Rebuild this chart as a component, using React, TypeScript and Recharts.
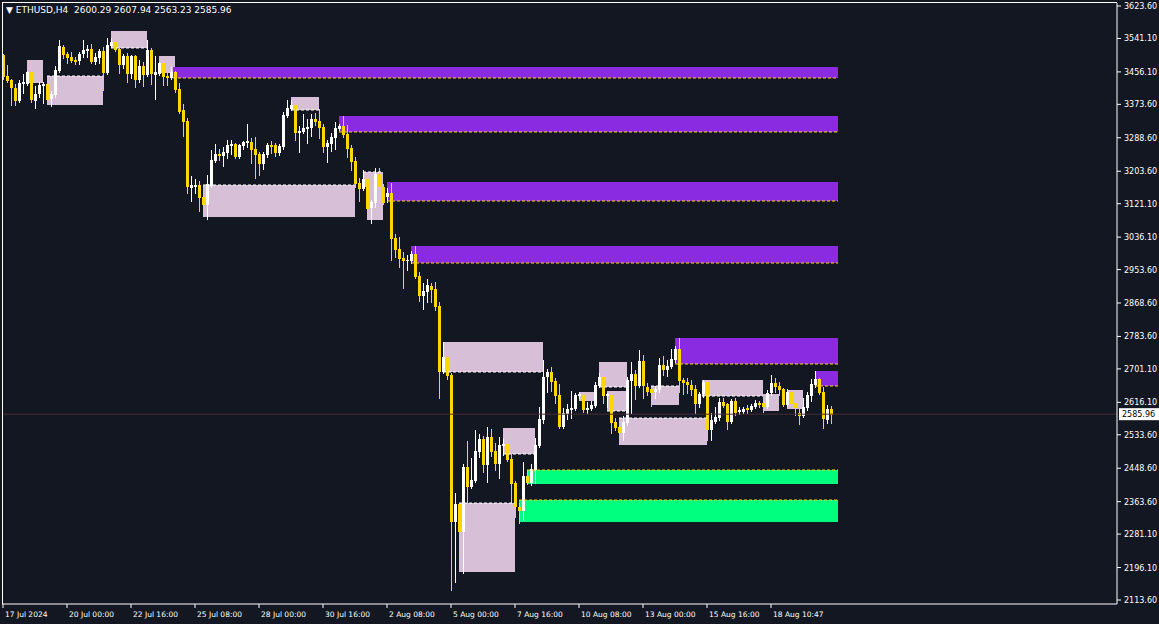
import React from "react";
import {
  ComposedChart,
  Bar,
  XAxis,
  YAxis,
  ReferenceArea,
  ReferenceLine,
} from "recharts";

// ETHUSD H4 candles, 17 Jul 2024 08:00 .. 20 Aug 2024 20:00 (bar index = position)
const opens = [
  3499.0, 3445.6, 3435.5, 3415.1, 3382.1, 3425.3, 3425.3, 3455.8, 3382.1, 3399.9,
  3420.2, 3425.3, 3387.2, 3397.3, 3458.3, 3519.4, 3501.6, 3493.9, 3486.3, 3483.8,
  3501.6, 3509.2, 3514.3, 3481.2, 3491.4, 3509.2, 3453.3, 3521.9, 3532.1, 3514.3,
  3473.6, 3496.5, 3450.7, 3496.5, 3435.5, 3471.1, 3448.2, 3511.8, 3448.2, 3450.7,
  3478.7, 3445.6, 3440.6, 3455.8, 3412.6, 3359.2, 3331.3, 3160.9, 3163.5, 3168.6,
  3138.0, 3117.7, 3166.0, 3229.6, 3247.4, 3242.3, 3249.9, 3267.7, 3272.8, 3239.7,
  3267.7, 3275.3, 3277.9, 3260.1, 3247.4, 3221.9, 3244.8, 3270.2, 3270.2, 3249.9,
  3265.2, 3344.0, 3361.8, 3371.9, 3300.7, 3303.3, 3310.9, 3313.5, 3336.3, 3331.3,
  3316.0, 3265.2, 3272.8, 3288.0, 3310.9, 3318.5, 3298.2, 3262.6, 3229.6, 3173.6,
  3158.4, 3183.8, 3110.1, 3122.8, 3196.5, 3163.5, 3138.0, 3148.2, 3033.8, 3005.8,
  2982.9, 2975.3, 2975.3, 2993.1, 2937.2, 2886.4, 2896.5, 2911.8, 2904.2, 2861.0,
  2693.2, 2731.3, 2685.5, 2311.8, 2357.6, 2286.4, 2451.6, 2400.8, 2416.1, 2489.8,
  2522.8, 2456.7, 2527.9, 2492.3, 2459.3, 2505.1, 2510.1, 2472.0, 2411.0, 2349.9,
  2339.8, 2428.8, 2411.0, 2444.0, 2505.1, 2571.1, 2680.4, 2693.2, 2670.3, 2634.7,
  2553.3, 2586.4, 2596.6, 2599.1, 2632.1, 2634.7, 2596.6, 2599.1, 2606.7, 2657.6,
  2680.4, 2632.1, 2634.7, 2566.1, 2553.3, 2538.1, 2563.5, 2670.3, 2688.1, 2657.6,
  2721.1, 2655.0, 2649.9, 2642.3, 2647.4, 2711.0, 2698.2, 2705.9, 2723.7, 2751.6,
  2672.8, 2667.7, 2660.1, 2649.9, 2611.8, 2637.2, 2667.7, 2545.7, 2566.1, 2576.2,
  2616.9, 2611.8, 2566.1, 2619.4, 2591.5, 2591.5, 2601.6, 2596.6, 2604.2, 2614.4,
  2614.4, 2604.2, 2639.8, 2665.2, 2657.6, 2649.9, 2609.3, 2642.3, 2614.4, 2588.9,
  2581.3, 2601.6, 2632.1, 2660.1, 2675.4, 2642.3, 2571.1, 2600.29,
];

const highs = [
  3501.6, 3473.6, 3438.0, 3425.3, 3435.5, 3450.7, 3458.3, 3486.3, 3420.2, 3430.4,
  3430.4, 3443.1, 3407.5, 3471.1, 3537.2, 3524.5, 3506.7, 3506.7, 3493.9, 3506.7,
  3537.2, 3524.5, 3527.0, 3504.1, 3514.3, 3519.4, 3542.3, 3542.3, 3560.0, 3519.4,
  3501.6, 3504.1, 3499.0, 3499.0, 3486.3, 3481.2, 3537.2, 3516.8, 3496.5, 3481.2,
  3486.3, 3453.3, 3468.5, 3458.3, 3427.8, 3374.5, 3338.9, 3191.4, 3183.8, 3178.7,
  3148.2, 3194.0, 3257.5, 3272.8, 3260.1, 3265.2, 3283.0, 3283.0, 3275.3, 3272.8,
  3280.4, 3323.6, 3288.0, 3290.6, 3252.4, 3252.4, 3275.3, 3280.4, 3275.3, 3272.8,
  3354.1, 3384.6, 3384.6, 3384.6, 3318.5, 3349.0, 3336.3, 3349.0, 3351.6, 3361.8,
  3323.6, 3283.0, 3300.7, 3328.7, 3323.6, 3344.0, 3321.1, 3270.2, 3239.7, 3186.3,
  3206.7, 3199.1, 3130.4, 3211.8, 3211.8, 3171.1, 3160.9, 3173.6, 3044.0, 3036.4,
  2998.2, 2990.6, 3000.8, 3013.5, 2947.4, 2919.4, 2929.6, 2919.4, 2922.0, 2871.1,
  2769.4, 2733.8, 2690.6, 2385.6, 2360.1, 2459.3, 2517.8, 2474.5, 2545.7, 2535.5,
  2530.5, 2553.3, 2548.2, 2512.7, 2527.9, 2525.4, 2550.8, 2487.3, 2416.1, 2360.1,
  2464.4, 2444.0, 2459.3, 2525.4, 2604.2, 2723.7, 2700.8, 2705.9, 2677.9, 2662.6,
  2601.6, 2611.8, 2644.9, 2639.8, 2642.3, 2637.2, 2616.9, 2619.4, 2667.7, 2690.6,
  2685.5, 2639.8, 2637.2, 2576.2, 2558.4, 2581.3, 2680.4, 2718.6, 2698.2, 2749.1,
  2736.4, 2665.2, 2652.5, 2657.6, 2728.8, 2733.8, 2723.7, 2751.6, 2759.3, 2779.6,
  2677.9, 2677.9, 2672.8, 2660.1, 2642.3, 2672.8, 2672.8, 2588.9, 2604.2, 2627.1,
  2627.1, 2614.4, 2624.5, 2627.1, 2604.2, 2604.2, 2609.3, 2611.8, 2622.0, 2619.4,
  2616.9, 2647.4, 2685.5, 2677.9, 2667.7, 2652.5, 2649.9, 2647.4, 2616.9, 2601.6,
  2627.1, 2642.3, 2675.4, 2695.7, 2677.9, 2655.0, 2609.3, 2607.94,
];

const lows = [
  3438.0, 3430.4, 3371.9, 3371.9, 3379.6, 3402.4, 3422.8, 3379.6, 3364.3, 3392.3,
  3377.0, 3379.6, 3369.4, 3392.3, 3456.0, 3491.4, 3478.7, 3481.2, 3476.1, 3476.1,
  3493.9, 3493.9, 3478.7, 3476.1, 3478.7, 3410.1, 3450.7, 3519.4, 3509.2, 3453.3,
  3466.0, 3430.4, 3440.6, 3417.7, 3430.4, 3420.2, 3445.6, 3425.3, 3387.2, 3448.2,
  3422.8, 3422.8, 3438.0, 3405.0, 3351.6, 3293.1, 3148.2, 3127.9, 3148.2, 3102.5,
  3097.4, 3082.1, 3163.5, 3227.0, 3232.1, 3216.9, 3237.2, 3247.4, 3237.2, 3237.2,
  3260.1, 3265.2, 3224.5, 3186.3, 3194.0, 3209.2, 3239.7, 3249.9, 3242.3, 3244.8,
  3260.1, 3341.4, 3359.2, 3283.0, 3252.4, 3300.7, 3275.3, 3293.1, 3321.1, 3288.0,
  3252.4, 3227.0, 3255.0, 3260.1, 3308.4, 3290.6, 3239.7, 3206.7, 3163.5, 3127.9,
  3155.8, 3097.4, 3071.9, 3112.6, 3127.9, 3120.3, 3125.3, 2977.9, 2985.5, 2960.1,
  2906.7, 2952.5, 2970.2, 2932.1, 2873.7, 2853.3, 2871.1, 2871.1, 2850.8, 2627.1,
  2690.6, 2675.4, 2139.0, 2159.3, 2222.9, 2182.2, 2362.7, 2398.3, 2413.5, 2477.1,
  2438.9, 2413.5, 2479.6, 2444.0, 2423.7, 2482.2, 2467.0, 2362.7, 2324.6, 2309.3,
  2316.9, 2408.4, 2405.9, 2411.0, 2502.5, 2563.5, 2642.3, 2644.9, 2614.4, 2550.8,
  2550.8, 2573.7, 2576.2, 2596.6, 2627.1, 2591.5, 2588.9, 2596.6, 2604.2, 2655.0,
  2614.4, 2604.2, 2538.1, 2545.7, 2520.3, 2520.3, 2558.4, 2588.9, 2624.5, 2655.0,
  2627.1, 2634.7, 2606.7, 2627.1, 2642.3, 2685.5, 2683.0, 2703.0, 2718.6, 2642.3,
  2637.2, 2639.8, 2634.7, 2588.9, 2604.2, 2629.6, 2520.3, 2520.3, 2563.5, 2571.1,
  2604.2, 2548.2, 2563.5, 2583.8, 2586.4, 2588.9, 2588.9, 2594.0, 2601.6, 2604.2,
  2591.5, 2601.6, 2634.7, 2642.3, 2634.7, 2606.7, 2606.7, 2609.3, 2583.8, 2561.0,
  2578.8, 2596.6, 2619.4, 2655.0, 2637.2, 2550.8, 2563.5, 2563.23,
];

const closes = [
  3443.1, 3432.9, 3415.1, 3382.1, 3427.8, 3430.4, 3455.8, 3384.6, 3399.9, 3422.8,
  3425.3, 3384.6, 3399.9, 3460.9, 3521.9, 3499.0, 3491.4, 3483.8, 3481.2, 3501.6,
  3511.8, 3514.3, 3481.2, 3493.9, 3509.2, 3453.3, 3524.5, 3532.1, 3511.8, 3473.6,
  3496.5, 3450.7, 3496.5, 3435.5, 3471.1, 3448.2, 3511.8, 3450.7, 3455.8, 3478.7,
  3443.1, 3440.6, 3455.8, 3410.1, 3354.1, 3328.7, 3163.5, 3168.6, 3168.6, 3135.5,
  3117.7, 3171.1, 3232.1, 3247.4, 3242.3, 3252.4, 3270.2, 3272.8, 3239.7, 3270.2,
  3277.9, 3280.4, 3257.5, 3244.8, 3221.9, 3247.4, 3270.2, 3265.2, 3249.9, 3267.7,
  3346.5, 3364.3, 3371.9, 3300.7, 3305.8, 3313.5, 3316.0, 3336.3, 3328.7, 3313.5,
  3265.2, 3275.3, 3290.6, 3313.5, 3318.5, 3295.7, 3260.1, 3227.0, 3171.1, 3158.4,
  3183.8, 3107.5, 3125.3, 3196.5, 3163.5, 3122.8, 3148.2, 3031.3, 3003.3, 2980.4,
  2975.3, 2977.9, 2993.1, 2934.7, 2886.4, 2899.1, 2914.4, 2901.6, 2858.4, 2693.2,
  2731.3, 2683.0, 2311.8, 2357.6, 2286.4, 2451.6, 2400.8, 2418.6, 2492.3, 2522.8,
  2456.7, 2527.9, 2489.8, 2459.3, 2507.6, 2510.1, 2469.4, 2408.4, 2349.9, 2339.8,
  2428.8, 2411.0, 2446.6, 2507.6, 2573.7, 2680.4, 2693.2, 2667.7, 2632.1, 2553.3,
  2588.9, 2599.1, 2601.6, 2634.7, 2637.2, 2596.6, 2601.6, 2609.3, 2660.1, 2680.4,
  2632.1, 2637.2, 2563.5, 2550.8, 2538.1, 2566.1, 2672.8, 2688.1, 2657.6, 2721.1,
  2657.6, 2642.3, 2639.8, 2649.9, 2711.0, 2698.2, 2708.4, 2726.2, 2751.6, 2670.3,
  2665.2, 2660.1, 2647.4, 2611.8, 2637.2, 2667.7, 2545.7, 2571.1, 2578.8, 2616.9,
  2606.7, 2566.1, 2619.4, 2588.9, 2596.6, 2599.1, 2596.6, 2606.7, 2614.4, 2609.3,
  2604.2, 2639.8, 2665.2, 2655.0, 2647.4, 2609.3, 2642.3, 2611.8, 2601.6, 2581.3,
  2604.2, 2634.7, 2662.6, 2675.4, 2639.8, 2573.7, 2599.1, 2585.96,
];

// x-axis labels (bar index -> text)
const timeTickBars = [0, 16, 32, 48, 64, 80, 96, 112, 128, 144, 160, 176, 192];
const timeTickLabels = [
  "17 Jul 2024", "20 Jul 00:00", "22 Jul 16:00", "25 Jul 08:00", "28 Jul 00:00",
  "30 Jul 16:00", "2 Aug 08:00", "5 Aug 00:00", "7 Aug 16:00", "10 Aug 08:00",
  "13 Aug 00:00", "15 Aug 16:00", "18 Aug 10:47",
];

const priceTicks = [
  3623.6, 3541.1, 3456.1, 3373.6, 3288.6, 3203.6, 3121.1, 3036.1, 2953.6, 2868.6,
  2783.6, 2701.1, 2616.1, 2533.6, 2448.6, 2363.6, 2281.1, 2196.1, 2113.6,
];

const lastPrice = 2585.96;

// zones: [fromBar, toBar, top, bottom]
const supplyZones = [
  [42.5, 208.75, 3468.5, 3440.6],
  [84, 208.75, 3344.0, 3303.3],
  [96, 208.75, 3176.2, 3127.9],
  [102, 208.75, 3013.5, 2970.2],
  [168, 208.75, 2779.6, 2713.5],
  [203, 208.75, 2695.7, 2657.6],
];

const demandZones = [
  [131, 208.75, 2444.0, 2408.4],
  [129, 208.75, 2367.8, 2311.8],
];

// order blocks: [fromBar, toBar, top, bottom, dashed edge]
const orderBlocks: [number, number, number, number, string][] = [
  [6, 10, 3486.3, 3427.8, ""],
  [11, 25, 3445.6, 3371.9, "top"],
  [27, 36, 3560.0, 3516.8, "bottom"],
  [39, 43, 3496.5, 3453.3, ""],
  [72, 79, 3392.3, 3359.2, "bottom"],
  [50, 88, 3168.6, 3087.2, "top"],
  [90, 95, 3201.6, 3163.5, "top"],
  [91, 95, 3163.5, 3079.6, ""],
  [110, 135, 2769.4, 2693.2, "bottom"],
  [125, 133, 2550.8, 2484.7, "bottom"],
  [114, 128, 2360.1, 2184.8, "top"],
  [149, 156, 2718.6, 2655.0, "bottom"],
  [144, 148.5, 2642.3, 2619.4, ""],
  [151, 156, 2644.9, 2594.0, "bottom"],
  [154, 176, 2576.2, 2507.6, "top"],
  [162, 169, 2657.6, 2609.3, "top"],
  [174.75, 190, 2672.8, 2632.1, "bottom"],
  [190, 194, 2637.2, 2594.0, ""],
  [196, 200, 2647.4, 2599.1, ""],
];

const BG = "#131722";
const FG = "#FFFFFF";
const BULL = "#FFFFFF";
const BEAR = "#FFD700";
const SUPPLY = "#8A2BE2";
const DEMAND = "#00FF7F";
const BLOCK = "#D8BFD8";
const FONT = "'DejaVu Sans', sans-serif";

const rows = opens.map((o, i) => ({
  i,
  o,
  h: highs[i],
  l: lows[i],
  c: closes[i],
  range: [lows[i], highs[i]],
}));

// candle drawn inside the high-low bar the library hands us
const Candle = (props: any) => {
  const { x, y, width, height, payload } = props;
  if (height == null || !payload) return null;
  const { o, h, l, c } = payload;
  const k = h === l ? 0 : height / (h - l);
  const yO = y + (h - o) * k;
  const yC = y + (h - c) * k;
  const color = c >= o ? BULL : BEAR;
  const cx = Math.round(x + width / 2);
  const top = Math.round(Math.min(yO, yC));
  const bh = Math.max(1, Math.round(Math.abs(yO - yC)));
  return (
    <g>
      <line x1={cx + 0.5} x2={cx + 0.5} y1={Math.round(y)} y2={Math.round(y + height) + 1} stroke={color} />
      <rect x={cx - 1} y={top} width={3} height={bh} fill={color} />
    </g>
  );
};

const XTick = (props: any) => {
  const { x, y, payload } = props;
  const idx = timeTickBars.indexOf(payload.value);
  return (
    <text x={x + 2} y={y + 7} fill={FG} fontSize={7.5} fontFamily={FONT}>
      {timeTickLabels[idx]}
    </text>
  );
};

const YTick = (props: any) => {
  const { x, y, payload } = props;
  return (
    <text x={x} y={y + 3} fill={FG} fontSize={8} fontFamily={FONT}>
      {payload.value.toFixed(2)}
    </text>
  );
};

const PriceTag = (props: any) => {
  const { viewBox } = props;
  if (!viewBox) return null;
  const px = viewBox.x + viewBox.width + 2;
  return (
    <g>
      <rect x={px} y={viewBox.y - 6} width={40} height={12} fill="#FFFFFF" />
      <text x={px + 3} y={viewBox.y + 3} fill="#000000" fontSize={8} fontFamily={FONT}>
        {lastPrice.toFixed(2)}
      </text>
    </g>
  );
};

export default function App() {
  return (
    <div style={{ position: "relative", width: 1159, height: 624, background: BG }}>
      <style>{`body{margin:0;background:${BG}}`}</style>
      <ComposedChart
        width={1159}
        height={624}
        data={rows}
        margin={{ top: 3, right: 0, bottom: 0, left: 2 }}
      >
        <XAxis
          dataKey="i"
          type="number"
          domain={[-0.25, 278.5]}
          allowDataOverflow
          ticks={timeTickBars}
          interval={0}
          height={20}
          tickSize={4}
          tickMargin={2}
          tick={<XTick />}
          tickLine={{ stroke: FG }}
          axisLine={{ stroke: FG }}
        />
        <YAxis
          orientation="right"
          type="number"
          domain={[2103.43, 3631.23]}
          allowDataOverflow
          ticks={priceTicks}
          interval={0}
          width={42}
          tickSize={4}
          tickMargin={3}
          tick={<YTick />}
          tickLine={{ stroke: FG }}
          axisLine={{ stroke: FG }}
        />

        {orderBlocks.map((b, k) => (
          <ReferenceArea
            key={"ob" + k}
            x1={b[0]}
            x2={b[1]}
            y1={b[3]}
            y2={b[2]}
            fill={BLOCK}
            fillOpacity={1}
            stroke="none"
          />
        ))}
        {orderBlocks
          .filter((b) => b[4] !== "")
          .map((b, k) => (
            <ReferenceLine
              key={"obl" + k}
              segment={[
                { x: b[0], y: b[4] === "top" ? b[2] : b[3] },
                { x: b[1], y: b[4] === "top" ? b[2] : b[3] },
              ]}
              stroke="#FFFFFF"
              strokeDasharray="3 2"
            />
          ))}
        {supplyZones.map((z, k) => (
          <ReferenceArea
            key={"sz" + k}
            x1={z[0]}
            x2={z[1]}
            y1={z[3]}
            y2={z[2]}
            fill={SUPPLY}
            fillOpacity={1}
            stroke="none"
          />
        ))}
        {supplyZones.map((z, k) => (
          <ReferenceLine
            key={"szl" + k}
            segment={[
              { x: z[0], y: z[3] },
              { x: z[1], y: z[3] },
            ]}
            stroke={BEAR}
            strokeDasharray="3 2"
          />
        ))}
        {demandZones.map((z, k) => (
          <ReferenceArea
            key={"dz" + k}
            x1={z[0]}
            x2={z[1]}
            y1={z[3]}
            y2={z[2]}
            fill={DEMAND}
            fillOpacity={1}
            stroke="none"
          />
        ))}
        {demandZones.map((z, k) => (
          <ReferenceLine
            key={"dzl" + k}
            segment={[
              { x: z[0], y: z[2] },
              { x: z[1], y: z[2] },
            ]}
            stroke={BEAR}
            strokeDasharray="3 2"
          />
        ))}

        <ReferenceLine y={lastPrice} stroke="#4A2C35" label={<PriceTag />} />

        <Bar
          dataKey="range"
          barSize={3}
          shape={<Candle />}
          isAnimationActive={false}
        />
      </ComposedChart>

      <div
        style={{
          position: "absolute",
          left: 2,
          top: 2,
          width: 1115,
          height: 602,
          borderLeft: `1px solid ${FG}`,
          borderTop: `1px solid ${FG}`,
          boxSizing: "border-box",
          pointerEvents: "none",
        }}
      />
      <div
        style={{
          position: "absolute",
          left: 6,
          top: 4,
          color: FG,
          fontFamily: FONT,
          fontSize: 9,
          whiteSpace: "pre",
          lineHeight: "12px",
        }}
      >
        {"\u25BC ETHUSD,H4  2600.29 2607.94 2563.23 2585.96"}
      </div>
    </div>
  );
}
